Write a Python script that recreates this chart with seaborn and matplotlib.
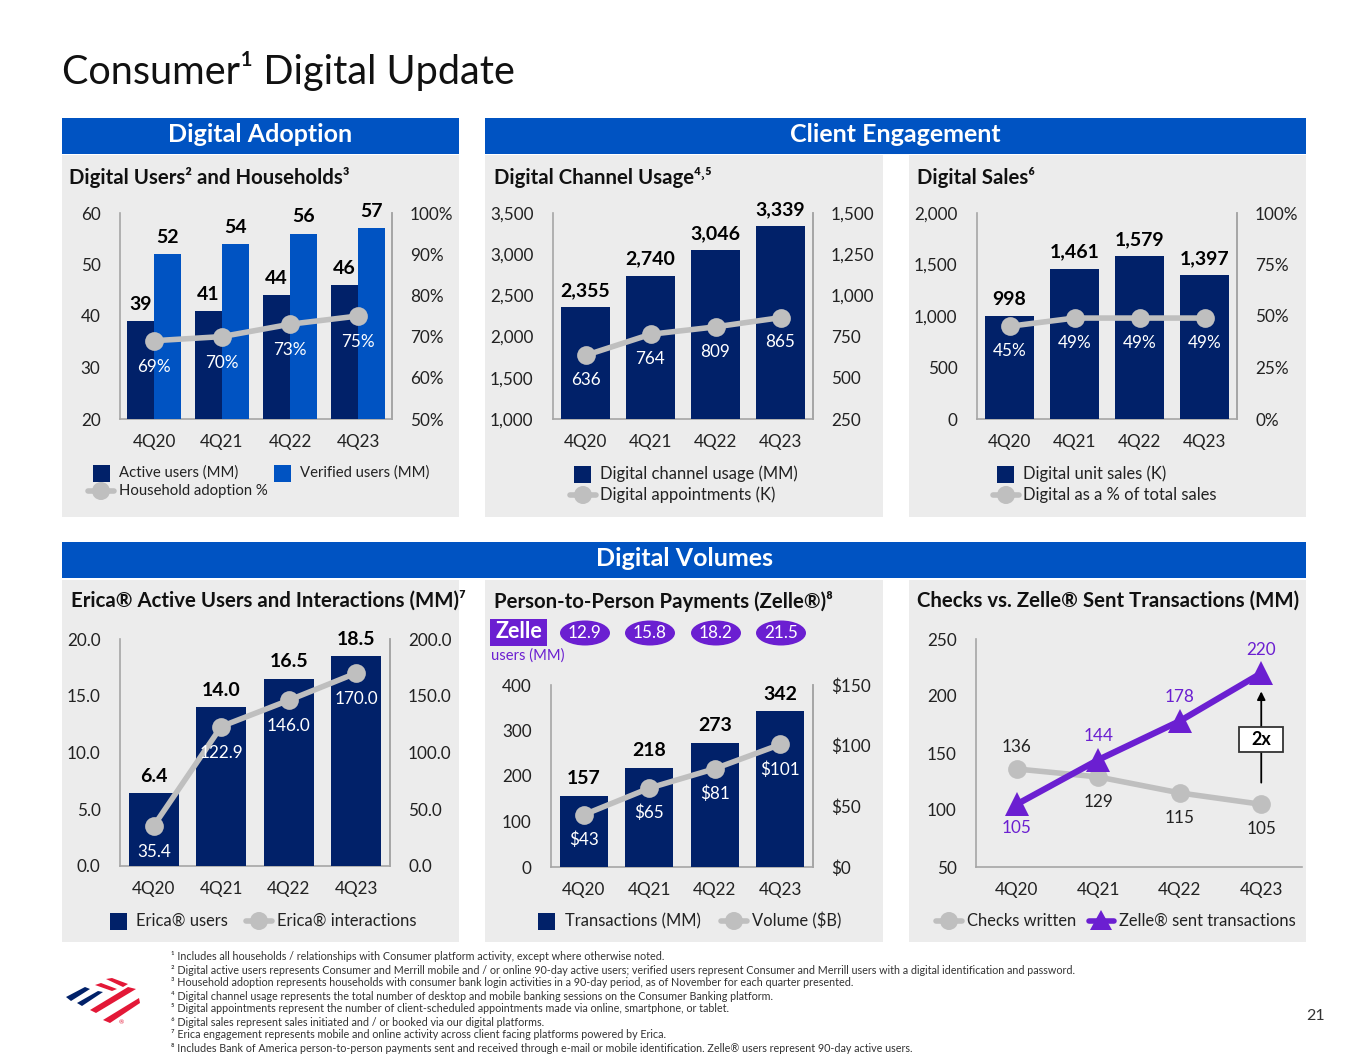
import pandas as pd
import seaborn as sns
import matplotlib
matplotlib.use('Agg')
import matplotlib.pyplot as plt
from matplotlib.lines import Line2D
from matplotlib.patches import Ellipse, Polygon, Rectangle

quarters = ['4Q20', '4Q21', '4Q22', '4Q23']

active_users = [39, 41, 44, 46]
verified_users = [52, 54, 56, 57]
household_adoption = [69, 70, 73, 75]

channel_usage = [2355, 2740, 3046, 3339]
appointments = [636, 764, 809, 865]

unit_sales = [998, 1461, 1579, 1397]
digital_share = [45, 49, 49, 49]

erica_users = [6.4, 14.0, 16.5, 18.5]
erica_interactions = [35.4, 122.9, 146.0, 170.0]

zelle_users = [12.9, 15.8, 18.2, 21.5]
transactions = [157, 218, 273, 342]
volume = [43, 65, 81, 101]

checks_written = [136, 129, 115, 105]
zelle_sent = [105, 144, 178, 220]

footnotes = [
    '¹ Includes all households / relationships with Consumer platform activity, except where otherwise noted.',
    '² Digital active users represents Consumer and Merrill mobile and / or online 90-day active users; verified users represent Consumer and Merrill users with a digital identification and password.',
    '³ Household adoption represents households with consumer bank login activities in a 90-day period, as of November for each quarter presented.',
    '⁴ Digital channel usage represents the total number of desktop and mobile banking sessions on the Consumer Banking platform.',
    '⁵ Digital appointments represent the number of client-scheduled appointments made via online, smartphone, or tablet.',
    '⁶ Digital sales represent sales initiated and / or booked via our digital platforms.',
    '⁷ Erica engagement represents mobile and online activity across client facing platforms powered by Erica.',
    '⁸ Includes Bank of America person-to-person payments sent and received through e-mail or mobile identification. Zelle® users represent 90-day active users.',
]

NAVY = '#012169'
BLUE = '#0053C2'
GRAY = '#BFBFBF'
PANEL = '#ECECEC'
PURPLE = '#6B1FD1'
RED = '#E31837'
SPINE = '#A6A6A6'
TEXT = '#222222'

sns.set_theme(style='white')
plt.rcParams['font.family'] = ['Lato', 'DejaVu Sans']
plt.rcParams['text.color'] = TEXT

W, H = 1365, 1055
fig = plt.figure(figsize=(W / 100, H / 100), dpi=100, facecolor='white')

bg = fig.add_axes([0, 0, 1, 1], zorder=0)
bg.set_xlim(0, W)
bg.set_ylim(H, 0)
bg.axis('off')


def make_axes(left, right, top, bottom):
    ax = fig.add_axes([left / W, 1 - bottom / H, (right - left) / W, (bottom - top) / H], zorder=2)
    ax.patch.set_alpha(0)
    return ax


def style_axes(ax, yticks, ylabels, ylim, twin=None, rticks=None, rlabels=None, rlim=None):
    ax.set_xlim(-0.5, 3.5)
    ax.set_ylim(*ylim)
    ax.set_yticks(yticks)
    ax.set_yticklabels(ylabels)
    ax.set_xlabel('')
    ax.set_ylabel('')
    ax.tick_params(axis='y', length=0, pad=14, labelsize=12.3, labelcolor=TEXT)
    ax.tick_params(axis='x', length=0, pad=11, labelsize=12.3, labelcolor=TEXT)
    for name in ['left', 'right', 'bottom']:
        ax.spines[name].set_color(SPINE)
        ax.spines[name].set_linewidth(1.2)
    ax.spines['top'].set_visible(False)
    if twin is not None:
        twin.set_ylim(*rlim)
        twin.set_yticks(rticks)
        twin.set_yticklabels(rlabels)
        twin.set_ylabel('')
        twin.tick_params(axis='y', length=0, pad=13, labelsize=12.3, labelcolor=TEXT)
        twin.spines['top'].set_visible(False)
        twin.spines['left'].set_visible(False)
        twin.spines['bottom'].set_visible(False)
        twin.spines['right'].set_color(SPINE)
        twin.spines['right'].set_linewidth(1.2)
        twin.patch.set_alpha(0)
    else:
        ax.spines['right'].set_visible(False)


def gray_line(ax, values):
    sns.lineplot(x=quarters, y=values, ax=ax, color=GRAY, linewidth=4, marker='o',
                 markersize=13.5, markeredgewidth=0, sort=False, legend=False, zorder=5)


def top_labels(ax, xs, values, texts, dy=6):
    for x, v, t in zip(xs, values, texts):
        ax.annotate(t, (x, v), xytext=(0, dy), textcoords='offset points', ha='center', va='bottom',
                    fontsize=14, fontweight='bold', color='black', zorder=6)


def inner_labels(ax, values, texts, dy=-12):
    for i, (v, t) in enumerate(zip(values, texts)):
        ax.annotate(t, (i, v), xytext=(0, dy), textcoords='offset points', ha='center', va='top',
                    fontsize=12.3, color='white', zorder=6)


def simple_bars(ax, values, width=0.74):
    sns.barplot(x=quarters, y=values, ax=ax, color=NAVY, width=width, saturation=1, linewidth=0, zorder=3)


def legend_box(x, y, color):
    bg.add_patch(Rectangle((x, y - 8.5), 17, 17, facecolor=color, edgecolor='none'))


def gray_key(x, y):
    bg.add_line(Line2D([x - 13, x + 13], [y, y], color=GRAY, lw=4))
    bg.add_patch(Ellipse((x, y), 18, 18, facecolor=GRAY, edgecolor='none', zorder=3))


def label(x, y, s, size=11.9, weight='normal', color=TEXT, ha='left', va='center'):
    bg.text(x, y, s, fontsize=size, fontweight=weight, color=color, ha=ha, va=va, zorder=4)


# panels and bands
for x0, x1, y0, y1 in [(62, 459, 155, 517), (485, 883, 155, 517), (909, 1306, 155, 517),
                       (62, 459, 580, 942), (485, 883, 580, 942), (909, 1306, 580, 942)]:
    bg.add_patch(Rectangle((x0, y0), x1 - x0, y1 - y0, facecolor=PANEL, edgecolor='none'))
for x0, x1, y0, s in [(62, 459, 118, 'Digital Adoption'), (485, 1306, 118, 'Client Engagement'),
                      (62, 1306, 542, 'Digital Volumes')]:
    bg.add_patch(Rectangle((x0, y0), x1 - x0, 36, facecolor=BLUE, edgecolor='none'))
    label((x0 + x1) / 2, y0 + 17, s, size=18, weight='bold', color='white', ha='center')

label(62, 71, 'Consumer¹ Digital Update', size=28.5, color='#111111')

for x, y, s in [(69, 178, 'Digital Users² and Households³'),
                (494, 178, 'Digital Channel Usage⁴˒⁵'),
                (917, 178, 'Digital Sales⁶'),
                (71, 601, 'Erica® Active Users and Interactions (MM)⁷'),
                (494, 601, 'Person-to-Person Payments (Zelle®)⁸'),
                (917, 601, 'Checks vs. Zelle® Sent Transactions (MM)')]:
    label(x, y, s, size=14.7, weight='bold', color='#111111')

# digital users and households
ax = make_axes(120, 392, 213, 419)
users = pd.DataFrame({'quarter': quarters * 2,
                      'value': active_users + verified_users,
                      'series': ['Active users (MM)'] * 4 + ['Verified users (MM)'] * 4})
sns.barplot(data=users, x='quarter', y='value', hue='series', palette=[NAVY, BLUE], saturation=1,
            width=0.8, linewidth=0, legend=False, ax=ax, zorder=3)
tw = ax.twinx()
gray_line(tw, household_adoption)
style_axes(ax, [20, 30, 40, 50, 60], ['20', '30', '40', '50', '60'], (20, 60), tw,
           [50, 60, 70, 80, 90, 100], ['50%', '60%', '70%', '80%', '90%', '100%'], (50, 100))
top_labels(ax, [i - 0.2 for i in range(4)], active_users, [str(v) for v in active_users])
top_labels(ax, [i + 0.2 for i in range(4)], verified_users, [str(v) for v in verified_users])
inner_labels(tw, household_adoption, [f'{v}%' for v in household_adoption], dy=-13)
legend_box(93, 473, NAVY)
label(119, 473, 'Active users (MM)', size=10.7)
legend_box(274, 473, BLUE)
label(300, 473, 'Verified users (MM)', size=10.7)
gray_key(101, 491)
label(119, 491, 'Household adoption %', size=10.7)

# digital channel usage
ax = make_axes(553, 813, 213, 419)
simple_bars(ax, channel_usage)
tw = ax.twinx()
gray_line(tw, appointments)
style_axes(ax, [1000, 1500, 2000, 2500, 3000, 3500],
           ['1,000', '1,500', '2,000', '2,500', '3,000', '3,500'], (1000, 3500), tw,
           [250, 500, 750, 1000, 1250, 1500], ['250', '500', '750', '1,000', '1,250', '1,500'], (250, 1500))
top_labels(ax, range(4), channel_usage, [f'{v:,}' for v in channel_usage])
inner_labels(tw, appointments, [str(v) for v in appointments])
legend_box(574, 474, NAVY)
label(600, 474, 'Digital channel usage (MM)')
gray_key(583, 495)
label(600, 495, 'Digital appointments (K)')

# digital sales
ax = make_axes(977, 1237, 213, 419)
simple_bars(ax, unit_sales)
tw = ax.twinx()
gray_line(tw, digital_share)
style_axes(ax, [0, 500, 1000, 1500, 2000], ['0', '500', '1,000', '1,500', '2,000'], (0, 2000), tw,
           [0, 25, 50, 75, 100], ['0%', '25%', '50%', '75%', '100%'], (0, 100))
top_labels(ax, range(4), unit_sales, [f'{v:,}' for v in unit_sales])
inner_labels(tw, digital_share, [f'{v}%' for v in digital_share])
legend_box(997, 474, NAVY)
label(1023, 474, 'Digital unit sales (K)')
gray_key(1006, 495)
label(1023, 495, 'Digital as a % of total sales')

# erica
ax = make_axes(120, 390, 639, 866)
simple_bars(ax, erica_users)
tw = ax.twinx()
gray_line(tw, erica_interactions)
style_axes(ax, [0, 5, 10, 15, 20], ['0.0', '5.0', '10.0', '15.0', '20.0'], (0, 20), tw,
           [0, 50, 100, 150, 200], ['0.0', '50.0', '100.0', '150.0', '200.0'], (0, 200))
top_labels(ax, range(4), erica_users, [f'{v:.1f}' for v in erica_users])
inner_labels(tw, erica_interactions, [f'{v:.1f}' for v in erica_interactions], dy=-13)
legend_box(110, 921, NAVY)
label(136, 921, 'Erica® users')
gray_key(259, 921)
label(277, 921, 'Erica® interactions')

# person to person
ax = make_axes(551, 813, 685, 867)
simple_bars(ax, transactions)
tw = ax.twinx()
gray_line(tw, volume)
style_axes(ax, [0, 100, 200, 300, 400], ['0', '100', '200', '300', '400'], (0, 400), tw,
           [0, 50, 100, 150], ['$0', '$50', '$100', '$150'], (0, 150))
top_labels(ax, range(4), transactions, [str(v) for v in transactions])
inner_labels(tw, volume, [f'${v}' for v in volume])
legend_box(538, 921, NAVY)
label(565, 921, 'Transactions (MM)')
gray_key(734, 921)
label(752, 921, 'Volume ($B)')

bg.add_patch(Rectangle((490, 619), 57, 27, facecolor=PURPLE, edgecolor='none'))
label(518.5, 632, 'Zelle', size=15.5, weight='bold', color='white', ha='center')
label(491, 656, 'users (MM)', size=10.6, color=PURPLE)
for cx, v in zip([585, 650, 716, 781], zelle_users):
    bg.add_patch(Ellipse((cx, 633), 50, 25, facecolor=PURPLE, edgecolor='none', zorder=3))
    label(cx, 633, f'{v}', size=12.3, color='white', ha='center')

# checks vs zelle
ax = make_axes(976, 1302, 639, 867)
gray_line(ax, checks_written)
sns.lineplot(x=quarters, y=zelle_sent, ax=ax, color=PURPLE, linewidth=4.5, marker='^', markersize=17,
             markeredgewidth=0, sort=False, legend=False, zorder=6)
style_axes(ax, [50, 100, 150, 200, 250], ['50', '100', '150', '200', '250'], (50, 250))
for i, v in enumerate(checks_written):
    ax.annotate(str(v), (i, v), xytext=(0, 16 if i == 0 else -18), textcoords='offset points',
                ha='center', va='center', fontsize=12.3, color=TEXT)
for i, v in enumerate(zelle_sent):
    ax.annotate(str(v), (i, v), xytext=(0, -17 if i == 0 else 17), textcoords='offset points',
                ha='center', va='center', fontsize=12.3, color=PURPLE)
ax.annotate('', xy=(3, 204), xytext=(3, 124),
            arrowprops=dict(arrowstyle='-|>', color='black', lw=1.3, shrinkA=0, shrinkB=0))
ax.add_patch(Rectangle((2.73, 151), 0.54, 22, facecolor='white', edgecolor='#333333', linewidth=1.3, zorder=7))
ax.text(3, 162, '2x', ha='center', va='center', fontsize=13, fontweight='bold', color='black', zorder=8)
gray_key(949, 921)
label(967, 921, 'Checks written')
bg.add_line(Line2D([1089, 1114], [921, 921], color=PURPLE, lw=4))
bg.add_patch(Polygon([(1101, 910), (1112, 930), (1090, 930)], facecolor=PURPLE, edgecolor='none', zorder=3))
label(1119, 921, 'Zelle® sent transactions')

# footnotes, logo and page number
for i, s in enumerate(footnotes):
    label(171, 957 + i * 13, s, size=7.75, color='#333333')
label(1306, 1016, '21', size=11.5, color='#333333')

for pts, c in [([(106, 979), (112, 978), (128, 984), (123, 987)], RED),
               ([(95, 985), (101, 983), (117, 989), (112, 991)], RED),
               ([(66, 997), (85, 987), (90, 989), (71, 1001)], NAVY),
               ([(77, 1003), (98, 991), (103, 992), (82, 1006)], NAVY),
               ([(90, 1010), (128, 987), (136, 989), (96, 1013)], RED),
               ([(103, 1020), (139, 998), (140, 1003), (110, 1023)], RED)]:
    bg.add_patch(Polygon(pts, facecolor=c, edgecolor='none'))
label(121, 1023, '®', size=4.5, color=RED, ha='center')

fig.savefig('out.png', dpi=100, facecolor='white')
